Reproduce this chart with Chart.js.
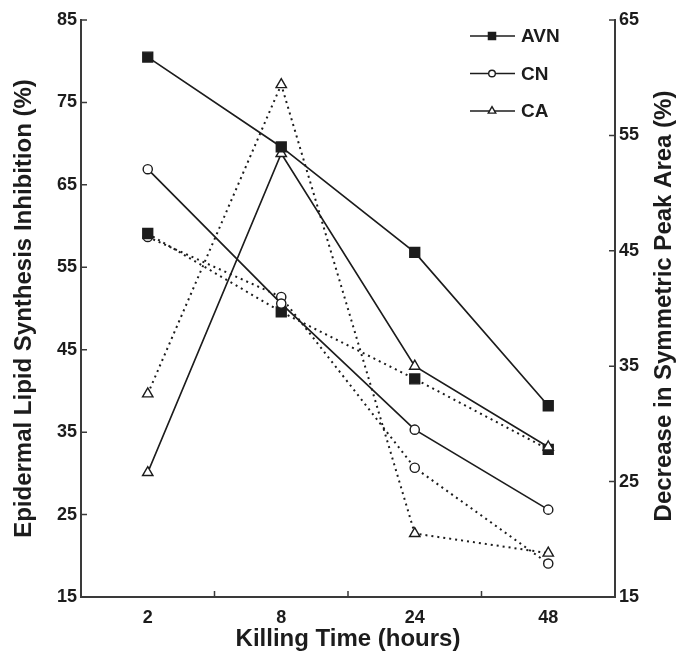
<!DOCTYPE html>
<html lang="en">
  <head>
    <meta charset="UTF-8" />
    <title>Killing Time</title>
    <script src="https://cdn.jsdelivr.net/npm/chart.js"></script>
    <style>
      html, body { margin: 0; padding: 0; background: #fff; }
      #wrap { width: 678px; height: 654px; }
    </style>
  </head>
  <body>
    <div id="wrap"><canvas id="chart" width="678" height="654"></canvas></div>
    <script>
      // killing time categories
      const hours = ["2", "8", "24", "48"];
      const seriesNames = ["AVN", "CN", "CA"];

      // left axis: epidermal lipid synthesis inhibition (%)  -- solid lines
      const inhibAVN = [80.5, 69.6, 56.8, 38.2];
      const inhibCN = [66.9, 50.6, 35.3, 25.6];
      const inhibCA = [30.1, 68.8, 43.0, 33.2];

      // right axis: decrease in symmetric peak area (%)  -- dotted lines
      const peakAVN = [46.5, 39.7, 33.9, 27.8];
      const peakCN = [46.2, 41.0, 26.2, 17.9];
      const peakCA = [32.6, 59.4, 20.5, 18.8];

      const leftTicks = [15, 25, 35, 45, 55, 65, 75, 85];
      const rightTicks = [15, 25, 35, 45, 55, 65];

      const ink = "#1c1c1c";
      const axisInk = "#3a3a3a";
      const boldFont = (size) => ({ family: "'Liberation Sans', Arial, sans-serif", size: size, weight: "bold" });

      const markers = {
        AVN: { style: "rect", fill: ink, radius: 7 },
        CN: { style: "circle", fill: "#fff", radius: 4.6 },
        CA: { style: "triangle", fill: "#fff", radius: 6 },
      };

      function makeSet(name, data, axis, dotted) {
        const m = markers[name];
        return {
          label: name,
          data: data,
          yAxisID: axis,
          borderColor: ink,
          borderWidth: dotted ? 2 : 1.7,
          borderDash: dotted ? [2, 4] : [],
          pointStyle: m.style,
          pointRadius: m.radius,
          pointBackgroundColor: m.fill,
          pointBorderColor: ink,
          pointBorderWidth: 1.4,
          tension: 0,
          fill: false,
        };
      }

      // inward tick marks, right-axis title and in-plot legend
      const decorations = {
        id: "decorations",
        afterDraw(chart) {
          const ctx = chart.ctx;
          const area = chart.chartArea;
          const x = chart.scales.x;
          const y = chart.scales.y;
          const y2 = chart.scales.y2;
          ctx.save();
          ctx.strokeStyle = axisInk;
          ctx.lineWidth = 1.5;
          ctx.beginPath();
          leftTicks.forEach((v) => {
            const py = y.getPixelForValue(v);
            ctx.moveTo(area.left, py);
            ctx.lineTo(area.left + 6, py);
          });
          rightTicks.forEach((v) => {
            const py = y2.getPixelForValue(v);
            ctx.moveTo(area.right - 6, py);
            ctx.lineTo(area.right, py);
          });
          for (let i = 0; i < hours.length - 1; i++) {
            const px = (x.getPixelForValue(i) + x.getPixelForValue(i + 1)) / 2;
            ctx.moveTo(px, area.bottom);
            ctx.lineTo(px, area.bottom - 6);
          }
          ctx.stroke();

          // right axis title reads bottom to top like the left one
          ctx.fillStyle = ink;
          ctx.font = "bold 24px 'Liberation Sans', Arial, sans-serif";
          ctx.textAlign = "center";
          ctx.textBaseline = "middle";
          ctx.translate(664, 306);
          ctx.rotate(-Math.PI / 2);
          ctx.fillText("Decrease in Symmetric Peak Area (%)", 0, 0);
          ctx.restore();

          // legend
          ctx.save();
          seriesNames.forEach((name, i) => {
            const ly = 36 + i * 37.5;
            const m = markers[name];
            ctx.strokeStyle = ink;
            ctx.lineWidth = 1.7;
            ctx.setLineDash([]);
            ctx.beginPath();
            ctx.moveTo(470, ly);
            ctx.lineTo(515, ly);
            ctx.stroke();
            ctx.fillStyle = m.fill;
            ctx.lineWidth = 1.4;
            Chart.helpers.drawPoint(ctx, { pointStyle: m.style, radius: m.radius * 0.72, borderWidth: 1.4 }, 492, ly);
            ctx.fillStyle = ink;
            ctx.font = "bold 19px 'Liberation Sans', Arial, sans-serif";
            ctx.textAlign = "left";
            ctx.textBaseline = "middle";
            ctx.fillText(name, 521, ly + 1);
          });
          ctx.restore();
        },
      };

      new Chart(document.getElementById("chart"), {
        type: "line",
        data: {
          labels: hours,
          datasets: [
            makeSet("AVN", inhibAVN, "y", false),
            makeSet("CN", inhibCN, "y", false),
            makeSet("CA", inhibCA, "y", false),
            makeSet("AVN", peakAVN, "y2", true),
            makeSet("CN", peakCN, "y2", true),
            makeSet("CA", peakCA, "y2", true),
          ],
        },
        options: {
          responsive: false,
          animation: false,
          layout: { padding: { top: 20, left: 0, right: 0, bottom: 0 } },
          plugins: { legend: { display: false }, tooltip: { enabled: false } },
          scales: {
            x: {
              type: "category",
              offset: true,
              grid: { display: false, drawTicks: false },
              border: { display: true, color: axisInk, width: 2 },
              ticks: { color: ink, font: boldFont(18), padding: 10, maxRotation: 0 },
              title: { display: true, text: "Killing Time (hours)", color: ink, font: boldFont(24), padding: { top: 0, bottom: 0 } },
              afterFit: (s) => { s.height = 57; },
            },
            y: {
              position: "left",
              min: 15,
              max: 85,
              afterBuildTicks: (s) => { s.ticks = leftTicks.map((v) => ({ value: v })); },
              grid: { display: false, drawTicks: false },
              border: { display: true, color: axisInk, width: 2 },
              ticks: { color: ink, font: boldFont(18), padding: 4 },
              title: { display: true, text: "Epidermal Lipid Synthesis Inhibition (%)", color: ink, font: boldFont(24), padding: { top: 10, bottom: 0 } },
              afterFit: (s) => { s.width = 81; },
            },
            y2: {
              position: "right",
              min: 15,
              max: 65,
              afterBuildTicks: (s) => { s.ticks = rightTicks.map((v) => ({ value: v })); },
              grid: { display: false, drawTicks: false },
              border: { display: true, color: axisInk, width: 2 },
              ticks: { color: ink, font: boldFont(18), padding: 4 },
              afterFit: (s) => { s.width = 63; },
            },
          },
        },
        plugins: [decorations],
      });
    </script>
  </body>
</html>
